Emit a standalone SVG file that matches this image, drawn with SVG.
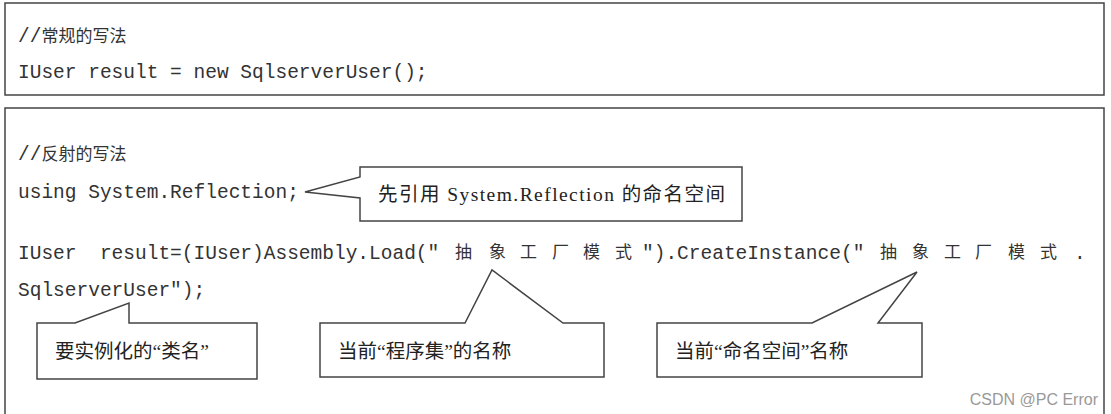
<svg xmlns="http://www.w3.org/2000/svg" width="1111" height="414" viewBox="0 0 1111 414">
<style>
.box{fill:#fff;stroke:#444;stroke-width:1.5}
.co{fill:#fff;stroke:#444;stroke-width:1.5;stroke-linejoin:miter}
.code{font-family:"Liberation Mono","Noto Sans CJK SC",monospace;font-size:19.5px;fill:#333}
.cjk{font-family:"Noto Sans CJK SC",sans-serif;font-size:17px;fill:#333}
.lbl{font-family:"Liberation Serif","Noto Sans CJK SC",serif;font-size:19.5px;fill:#222}
</style>
<rect width="1111" height="414" fill="#fff"/>
<g id="normal">
<rect class="box" x="5" y="3" width="1099" height="92"/>
<text class="code" x="18" y="42">//<tspan class="cjk">常规的写法</tspan></text>
<text class="code" x="18" y="78">IUser result = new SqlserverUser();</text>
</g>
<g id="reflection">
<rect class="box" x="5" y="108" width="1099" height="310"/>
<text class="code" x="18" y="160">//<tspan class="cjk">反射的写法</tspan></text>
<text class="code" x="18" y="198">using System.Reflection;</text>
<text class="code" x="18" y="259" xml:space="preserve">IUser  result=(IUser)Assembly.Load("</text>
<text class="cjk" y="258"><tspan x="455">抽</tspan><tspan x="489">象</tspan><tspan x="520">工</tspan><tspan x="552">厂</tspan><tspan x="583">模</tspan><tspan x="615">式</tspan></text>
<text class="code" x="642" y="259">").CreateInstance("</text>
<text class="cjk" y="258"><tspan x="880">抽</tspan><tspan x="912">象</tspan><tspan x="944">工</tspan><tspan x="975">厂</tspan><tspan x="1008">模</tspan><tspan x="1040">式</tspan></text>
<text class="code" x="1074" y="259">.</text>
<text class="code" x="18" y="296">SqlserverUser");</text>
</g>
<g id="callout-namespace">
<polygon class="co" points="360,167 742,167 742,221 360,221 360,198 305,192 360,177"/>
<text class="lbl" x="378" y="201" textLength="347" lengthAdjust="spacing">先引用 System.Reflection 的命名空间</text>
</g>
<g id="callout-class">
<polygon class="co" points="37,323 75,323 129,303 129,323 257,323 257,379 37,379"/>
<text class="lbl" x="55" y="358">要实例化的“类名”</text>
</g>
<g id="callout-assembly">
<polygon class="co" points="320,323 465,323 492,270 563,323 604,323 604,377 320,377"/>
<text class="lbl" x="338" y="358">当前“程序集”的名称</text>
</g>
<g id="callout-ns-name">
<polygon class="co" points="657,323 812,323 917,272 878,323 922,323 922,377 657,377"/>
<text class="lbl" x="675" y="358">当前“命名空间”名称</text>
</g>
<g id="connectors"></g>
<text x="1098" y="405" text-anchor="end" font-family="Liberation Sans,sans-serif" font-size="16" fill="#999">CSDN @PC Error</text>
</svg>
